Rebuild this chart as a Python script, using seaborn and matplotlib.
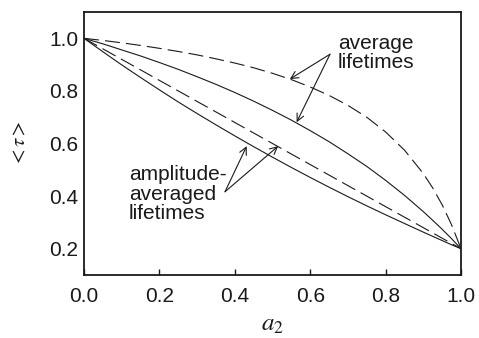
import matplotlib
matplotlib.use("Agg")
import matplotlib.pyplot as plt
import seaborn as sns
import pandas as pd

# ---- data ----
a2 = [0.0, 0.05, 0.10, 0.15, 0.20, 0.25, 0.30, 0.35, 0.40, 0.45, 0.50,
      0.55, 0.60, 0.65, 0.70, 0.75, 0.80, 0.85, 0.90, 0.925, 0.95, 0.975, 1.0]
avg_dashed = [1.000, 0.992, 0.983, 0.973, 0.962, 0.950, 0.937, 0.922, 0.906, 0.888, 0.867,
              0.843, 0.815, 0.783, 0.745, 0.700, 0.644, 0.575, 0.486, 0.431, 0.367, 0.291, 0.200]
avg_solid = [1.000, 0.979, 0.956, 0.933, 0.908, 0.882, 0.854, 0.825, 0.794, 0.761, 0.726,
             0.689, 0.649, 0.607, 0.561, 0.513, 0.460, 0.403, 0.341, 0.308, 0.274, 0.238, 0.200]
amp_dashed = [1.000, 0.960, 0.920, 0.880, 0.840, 0.800, 0.760, 0.720, 0.680, 0.640, 0.600,
              0.560, 0.520, 0.480, 0.440, 0.400, 0.360, 0.320, 0.280, 0.260, 0.240, 0.220, 0.200]
amp_solid = [1.000, 0.949, 0.899, 0.851, 0.804, 0.758, 0.714, 0.671, 0.629, 0.588, 0.548,
             0.509, 0.471, 0.434, 0.398, 0.363, 0.329, 0.296, 0.263, 0.247, 0.231, 0.215, 0.200]

x_ticks = [0.0, 0.2, 0.4, 0.6, 0.8, 1.0]
y_ticks = [0.2, 0.4, 0.6, 0.8, 1.0]
tick_labels_x = ["0.0", "0.2", "0.4", "0.6", "0.8", "1.0"]
tick_labels_y = ["0.2", "0.4", "0.6", "0.8", "1.0"]

sns.set_theme(style="white")
plt.rcParams["font.family"] = ["Liberation Sans", "DejaVu Sans"]
plt.rcParams["mathtext.fontset"] = "stix"

fig = plt.figure(figsize=(4.79, 3.38), dpi=100)
ax = fig.add_axes([0.1754, 0.1864, 0.787, 0.778])

ink = "#1a1a1a"
lw = 0.8
dash = (0, (13.5, 5.5))

for vals, ls in [(avg_dashed, dash), (avg_solid, "-"), (amp_dashed, dash), (amp_solid, "-")]:
    df = pd.DataFrame({"a2": a2, "tau": vals})
    sns.lineplot(data=df, x="a2", y="tau", ax=ax, color=ink, lw=lw,
                 linestyle=ls, sort=False)

ax.set_xlim(0, 1)
ax.set_ylim(0.1, 1.1)
ax.set_xticks(x_ticks)
ax.set_xticklabels(tick_labels_x)
ax.set_yticks(y_ticks)
ax.set_yticklabels(tick_labels_y)
ax.tick_params(axis="x", direction="in", length=4, width=1, colors=ink,
               labelsize=15, pad=9, bottom=True)
ax.tick_params(axis="y", length=0, labelsize=15, pad=4, colors=ink)
for s in ax.spines.values():
    s.set_color(ink)
    s.set_linewidth(1.3)

ax.set_xlabel(r"$a_2$", fontsize=18, color=ink, labelpad=4)
ax.set_ylabel(r"$<\tau>$", fontsize=15, color=ink, labelpad=14)

# annotations
ax.text(0.674, 0.944, "average\nlifetimes", fontsize=15, color=ink,
        ha="left", va="center", linespacing=1.05)
arrow = dict(arrowstyle="->", color=ink, lw=0.8, shrinkA=0, shrinkB=0,
             mutation_scale=13)
ax.annotate("", xy=(0.546, 0.845), xytext=(0.6525, 0.9395), arrowprops=arrow)
ax.annotate("", xy=(0.564, 0.681), xytext=(0.6525, 0.9395), arrowprops=arrow)

ax.text(0.119, 0.408, "amplitude-\naveraged\nlifetimes", fontsize=15, color=ink,
        ha="left", va="center", linespacing=1.05)
ax.annotate("", xy=(0.4315, 0.590), xytext=(0.374, 0.4165), arrowprops=arrow)
ax.annotate("", xy=(0.515, 0.590), xytext=(0.374, 0.4165), arrowprops=arrow)

fig.savefig("out.png", dpi=100)
